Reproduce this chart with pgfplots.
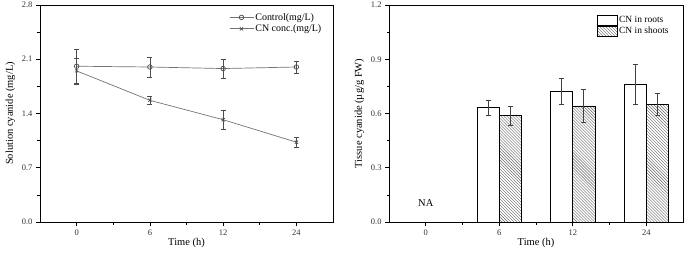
\documentclass[border=0pt]{standalone}
\usepackage{fontspec}
\setmainfont{Liberation Serif}
\usepackage{pgfplots}
\pgfplotsset{compat=1.18}
\usepackage{pgfplotstable}
\usetikzlibrary{patterns}

\pgfplotstableread{
x y e
0 2.01 0.22
1 2.00 0.13
2 1.98 0.12
3 2.00 0.08
}\control
\pgfplotstableread{
x y e
0 1.95 0.17
1 1.57 0.05
2 1.32 0.12
3 1.03 0.06
}\cnconc
\pgfplotstableread{
x y e
0.85 0.633 0.042
1.85 0.723 0.071
2.85 0.762 0.110
}\roots
\pgfplotstableread{
x y e
1.15 0.590 0.052
2.15 0.642 0.090
3.15 0.650 0.061
}\shoots

\pgfplotsset{
  boxlegend/.style={legend image code/.code={\draw[##1] (0bp,-5bp) rectangle (20bp,5bp);}},
  linelegend/.style={legend image code/.code={\draw[mark repeat=2, mark phase=2, ##1] plot coordinates {(0bp,0bp) (12bp,0bp) (24bp,0bp)};}},
  common/.style={
    scale only axis, width=293bp, height=217bp,
    anchor=south west,
    xmin=-0.5, xmax=3.5,
    xtick={0,1,2,3}, xticklabels={0,6,12,24},
    minor xtick={0.5,1.5,2.5},
    tick align=outside, xtick pos=bottom, ytick pos=left,
    major tick length=4bp, minor tick length=2.5bp,
    tick style={black, line width=0.6pt},
    axis line style={line width=0.8pt},
    /pgf/number format/assume math mode=true,
    ticklabel style={font=\fontsize{8.5}{10}\selectfont, text=black!80},
    yticklabel style={/pgf/number format/fixed, /pgf/number format/fixed zerofill, /pgf/number format/precision=1},
    label style={font=\fontsize{10.5}{12}\selectfont},
    xlabel={Time (h)},
    xlabel style={yshift=4bp},
    legend cell align=left,
  }
}

\begin{document}
\begin{tikzpicture}
\useasboundingbox (-40bp,-33bp) rectangle (645bp,222bp);
\begin{axis}[common, at={(0bp,0bp)},
  ymin=0, ymax=2.8,
  ytick={0,0.7,1.4,2.1,2.8},
  minor ytick={0.35,1.05,1.75,2.45},
  ylabel={Solution cyanide (mg/L)},
  legend style={draw=none, fill=none, at={(0.645,0.97)}, anchor=north west,
    font=\fontsize{10}{12}\selectfont, row sep=0bp, inner sep=0bp,
    nodes={inner sep=1.5bp}},
]
\addplot[black!55, line width=0.7pt, mark=o, mark size=2.3pt, mark options={fill=white, black!70}, linelegend,
  error bars/.cd, y dir=both, y explicit, error bar style={black!70, line width=0.6pt}, error mark options={black!70, rotate=90, mark size=2.5pt}]
  table[x=x, y=y, y error=e] {\control};
\addlegendentry{Control(mg/L)}
\addplot[black!55, line width=0.7pt, mark=x, mark size=2.3pt, mark options={black!70}, linelegend,
  error bars/.cd, y dir=both, y explicit, error bar style={black!70, line width=0.6pt}, error mark options={black!70, rotate=90, mark size=2.5pt}]
  table[x=x, y=y, y error=e] {\cnconc};
\addlegendentry{CN conc.(mg/L)}
\end{axis}

\begin{axis}[common, at={(349bp,0bp)}, width=294bp,
  ymin=0, ymax=1.2,
  ytick={0,0.3,0.6,0.9,1.2},
  minor ytick={0.15,0.45,0.75,1.05},
  ylabel={Tissue cyanide (µg/g FW)},
  legend style={draw=none, fill=none, at={(0.707,0.955)}, anchor=north west,
    font=\fontsize{9.5}{11}\selectfont, row sep=0bp, inner sep=0bp,
    nodes={inner sep=1.5bp}},
]
\addplot[ybar, bar width=0.3, bar shift=0, draw=black, fill=white, line width=0.6pt, boxlegend,
  error bars/.cd, y dir=both, y explicit, error bar style={black!75, line width=0.6pt}, error mark options={black!75, rotate=90, mark size=2.5pt}]
  table[x=x, y=y, y error=e] {\roots};
\addlegendentry{CN in roots}
\addplot[ybar, bar width=0.3, bar shift=0, draw=black, pattern=north west lines, pattern color=black!60, line width=0.6pt, boxlegend,
  error bars/.cd, y dir=both, y explicit, error bar style={black!75, line width=0.6pt}, error mark options={black!75, rotate=90, mark size=2.5pt}]
  table[x=x, y=y, y error=e] {\shoots};
\addlegendentry{CN in shoots}
\node[font=\fontsize{10.5}{12}\selectfont] at (axis cs:0,0.105) {NA};
\end{axis}
\end{tikzpicture}
\end{document}
